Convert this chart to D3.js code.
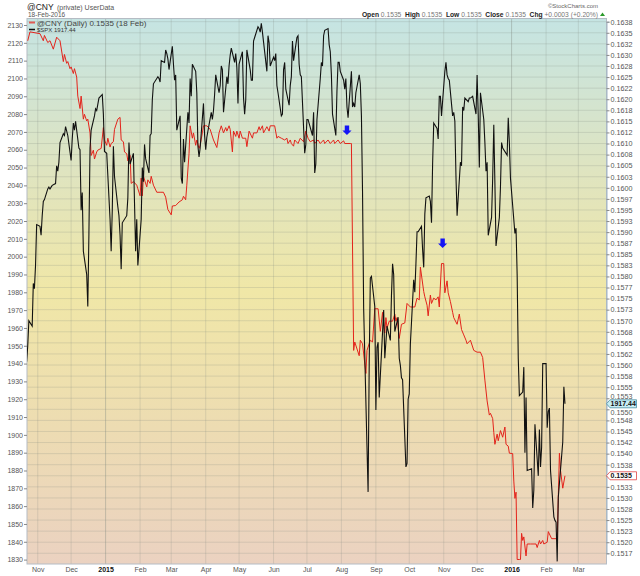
<!DOCTYPE html>
<html>
<head>
<meta charset="utf-8">
<script src="https://cdn.jsdelivr.net/npm/d3@7"></script>
<style>
  body { margin: 0; background: #fff; }
  text { font-family: "Liberation Sans", Arial, sans-serif; }
</style>
</head>
<body>
<script>
// $SPX daily closes (left scale)
var spxDates = [
  "2014-10-22","2014-10-23","2014-10-24","2014-10-27","2014-10-28","2014-10-29","2014-10-30","2014-10-31",
  "2014-11-03","2014-11-04","2014-11-05","2014-11-06","2014-11-07","2014-11-10","2014-11-11","2014-11-12","2014-11-13","2014-11-14",
  "2014-11-17","2014-11-18","2014-11-19","2014-11-20","2014-11-21","2014-11-24","2014-11-25","2014-11-26","2014-11-28",
  "2014-12-01","2014-12-02","2014-12-03","2014-12-04","2014-12-05","2014-12-08","2014-12-09","2014-12-10","2014-12-11","2014-12-12",
  "2014-12-15","2014-12-16","2014-12-17","2014-12-18","2014-12-19","2014-12-22","2014-12-23","2014-12-24","2014-12-26",
  "2014-12-29","2014-12-30","2014-12-31",
  "2015-01-02","2015-01-05","2015-01-06","2015-01-07","2015-01-08","2015-01-09","2015-01-12","2015-01-13","2015-01-14","2015-01-15",
  "2015-01-16","2015-01-20","2015-01-21","2015-01-22","2015-01-23","2015-01-26","2015-01-27","2015-01-28","2015-01-29","2015-01-30",
  "2015-02-02","2015-02-03","2015-02-04","2015-02-05","2015-02-06","2015-02-09","2015-02-10","2015-02-11","2015-02-12","2015-02-13",
  "2015-02-17","2015-02-18","2015-02-19","2015-02-20","2015-02-23","2015-02-24","2015-02-25","2015-02-26","2015-02-27",
  "2015-03-02","2015-03-03","2015-03-04","2015-03-05","2015-03-06","2015-03-09","2015-03-10","2015-03-11","2015-03-12","2015-03-13",
  "2015-03-16","2015-03-17","2015-03-18","2015-03-19","2015-03-20","2015-03-23","2015-03-24","2015-03-25","2015-03-26","2015-03-27",
  "2015-03-30","2015-03-31",
  "2015-04-01","2015-04-02","2015-04-06","2015-04-07","2015-04-08","2015-04-09","2015-04-10","2015-04-13","2015-04-14","2015-04-15",
  "2015-04-16","2015-04-17","2015-04-20","2015-04-21","2015-04-22","2015-04-23","2015-04-24","2015-04-27","2015-04-28","2015-04-29","2015-04-30",
  "2015-05-01","2015-05-04","2015-05-05","2015-05-06","2015-05-07","2015-05-08","2015-05-11","2015-05-12","2015-05-13","2015-05-14",
  "2015-05-15","2015-05-18","2015-05-19","2015-05-20","2015-05-21","2015-05-22","2015-05-26","2015-05-27","2015-05-28","2015-05-29",
  "2015-06-01","2015-06-02","2015-06-03","2015-06-04","2015-06-05","2015-06-08","2015-06-09","2015-06-10","2015-06-11","2015-06-12",
  "2015-06-15","2015-06-16","2015-06-17","2015-06-18","2015-06-19","2015-06-22","2015-06-23","2015-06-24","2015-06-25","2015-06-26",
  "2015-06-29","2015-06-30",
  "2015-07-01","2015-07-02","2015-07-06","2015-07-07","2015-07-08","2015-07-09","2015-07-10","2015-07-13","2015-07-14","2015-07-15",
  "2015-07-16","2015-07-17","2015-07-20","2015-07-21","2015-07-22","2015-07-23","2015-07-24","2015-07-27","2015-07-28","2015-07-29",
  "2015-07-30","2015-07-31",
  "2015-08-03","2015-08-04","2015-08-05","2015-08-06","2015-08-07","2015-08-10","2015-08-11","2015-08-12","2015-08-13","2015-08-14",
  "2015-08-17","2015-08-18","2015-08-19","2015-08-20","2015-08-21","2015-08-24","2015-08-25","2015-08-26","2015-08-27","2015-08-28","2015-08-31",
  "2015-09-01","2015-09-02","2015-09-03","2015-09-04","2015-09-08","2015-09-09","2015-09-10","2015-09-11","2015-09-14","2015-09-15",
  "2015-09-16","2015-09-17","2015-09-18","2015-09-21","2015-09-22","2015-09-23","2015-09-24","2015-09-25","2015-09-28","2015-09-29","2015-09-30",
  "2015-10-01","2015-10-02","2015-10-05","2015-10-06","2015-10-07","2015-10-08","2015-10-09","2015-10-12","2015-10-13","2015-10-14",
  "2015-10-15","2015-10-16","2015-10-19","2015-10-20","2015-10-21","2015-10-22","2015-10-23","2015-10-26","2015-10-27","2015-10-28",
  "2015-10-29","2015-10-30",
  "2015-11-02","2015-11-03","2015-11-04","2015-11-05","2015-11-06","2015-11-09","2015-11-10","2015-11-11","2015-11-12","2015-11-13",
  "2015-11-16","2015-11-17","2015-11-18","2015-11-19","2015-11-20","2015-11-23","2015-11-24","2015-11-25","2015-11-27","2015-11-30",
  "2015-12-01","2015-12-02","2015-12-03","2015-12-04","2015-12-07","2015-12-08","2015-12-09","2015-12-10","2015-12-11","2015-12-14",
  "2015-12-15","2015-12-16","2015-12-17","2015-12-18","2015-12-21","2015-12-22","2015-12-23","2015-12-24","2015-12-28","2015-12-29",
  "2015-12-30","2015-12-31",
  "2016-01-04","2016-01-05","2016-01-06","2016-01-07","2016-01-08","2016-01-11","2016-01-12","2016-01-13","2016-01-14","2016-01-15",
  "2016-01-19","2016-01-20","2016-01-21","2016-01-22","2016-01-25","2016-01-26","2016-01-27","2016-01-28","2016-01-29",
  "2016-02-01","2016-02-02","2016-02-03","2016-02-04","2016-02-05","2016-02-08","2016-02-09","2016-02-10","2016-02-11","2016-02-12",
  "2016-02-16","2016-02-17","2016-02-18"
];
var spxValues = [
  1941,1950,1964,1961,1985,1982,1995,2018,
  2017,2012,2023,2031,2032,2038,2039,2038,2039,2040,
  2041,2051,2048,2053,2064,2069,2068,2073,2068,
  2054,2066,2075,2071,2076,2061,2060,2026,2036,2003,
  1990,1972,2013,2061,2071,2079,2083,2082,2089,
  2091,2080,2059,
  2058,2021,2003,2026,2062,2045,2028,2023,2012,1993,
  2019,2023,2033,2064,2052,2058,2030,2003,2021,1995,
  2021,2050,2042,2063,2055,2047,2068,2069,2088,2097,
  2101,2100,2098,2110,2109,2116,2114,2111,2105,
  2118,2108,2099,2102,2071,2079,2044,2041,2066,2053,
  2081,2075,2100,2090,2108,2104,2092,2062,2056,2061,
  2086,2068,
  2060,2067,2081,2077,2082,2091,2102,2092,2096,2107,
  2105,2081,2101,2097,2107,2113,2117,2109,2114,2106,2086,
  2108,2115,2089,2080,2088,2116,2105,2099,2099,2121,
  2123,2129,2128,2126,2131,2126,2104,2124,2120,2107,
  2112,2110,2114,2096,2092,2079,2080,2105,2109,2094,
  2085,2096,2101,2121,2110,2123,2124,2108,2102,2101,
  2058,2063,
  2077,2077,2068,2081,2047,2052,2077,2100,2109,2107,
  2124,2127,2128,2119,2115,2102,2080,2068,2093,2109,
  2109,2104,
  2099,2094,2100,2084,2078,2104,2084,2086,2084,2092,
  2102,2097,2079,2036,1971,1893,1868,1940,1988,1989,1972,
  1914,1949,1952,1921,1970,1943,1952,1961,1953,1978,
  1996,1990,1958,1966,1943,1939,1932,1931,1882,1884,1920,
  1923,1951,1987,1980,1996,2014,2014,2017,2004,1994,
  2024,2033,2034,2031,2019,2052,2075,2072,2066,2090,
  2090,2079,
  2104,2109,2102,2100,2099,2079,2081,2076,2045,2023,
  2053,2051,2084,2082,2089,2087,2089,2089,2090,2080,
  2102,2080,2050,2092,2077,2064,2048,2053,2012,2022,
  2044,2074,2041,2006,2022,2039,2064,2061,2057,2078,
  2064,2044,
  2013,2016,1990,1943,1922,1924,1938,1890,1921,1880,
  1881,1859,1869,1906,1877,1903,1882,1893,1940,
  1940,1904,1913,1915,1880,1854,1852,1851,1829,1865,
  1896,1927,1917.44
];

// @CNY daily (right scale)
var cnyDates = [
  "2014-10-23","2014-10-25","2014-11-03","2014-11-06","2014-11-07","2014-11-10","2014-11-12","2014-11-15","2014-11-18","2014-11-21",
  "2014-11-24","2014-11-25","2014-11-27","2014-11-28","2014-11-30","2014-12-01","2014-12-03","2014-12-04","2014-12-06","2014-12-07",
  "2014-12-09","2014-12-10","2014-12-12","2014-12-13","2014-12-15","2014-12-16","2014-12-18","2014-12-19","2014-12-21","2014-12-22",
  "2014-12-24","2014-12-25","2014-12-28","2014-12-30","2014-12-31",
  "2015-01-02","2015-01-03","2015-01-05","2015-01-06","2015-01-08","2015-01-09","2015-01-12","2015-01-14","2015-01-15","2015-01-17",
  "2015-01-18","2015-01-20","2015-01-21","2015-01-23","2015-01-24","2015-01-26","2015-01-29","2015-01-30",
  "2015-02-01","2015-02-02","2015-02-03","2015-02-04","2015-02-07","2015-02-08","2015-02-10","2015-02-11","2015-02-13","2015-02-16",
  "2015-02-19","2015-02-22","2015-02-24","2015-02-26",
  "2015-03-01","2015-03-02","2015-03-05","2015-03-08","2015-03-11","2015-03-12","2015-03-14","2015-03-15","2015-03-17","2015-03-18",
  "2015-03-20","2015-03-21","2015-03-23","2015-03-24","2015-03-26","2015-03-27","2015-03-29","2015-03-30",
  "2015-04-02","2015-04-05","2015-04-08","2015-04-11","2015-04-13","2015-04-15","2015-04-17","2015-04-19","2015-04-20","2015-04-22",
  "2015-04-23","2015-04-25","2015-04-26","2015-04-28","2015-04-29",
  "2015-05-01","2015-05-02","2015-05-04","2015-05-07","2015-05-08","2015-05-10","2015-05-13","2015-05-14","2015-05-17","2015-05-19",
  "2015-05-20","2015-05-22","2015-05-23","2015-05-26","2015-05-28","2015-05-29",
  "2015-06-02","2015-06-04","2015-06-05","2015-06-08","2015-06-11","2015-06-13","2015-06-14","2015-06-16","2015-06-17","2015-06-19",
  "2015-06-20","2015-06-23","2015-06-25","2015-06-28","2015-06-30",
  "2015-07-02","2015-07-04","2015-07-07","2015-07-08","2015-07-11","2015-07-13","2015-07-16","2015-07-17","2015-07-20","2015-07-22",
  "2015-07-25","2015-07-26","2015-07-29","2015-07-31",
  "2015-08-03","2015-08-04","2015-08-09","2015-08-10","2015-08-12","2015-08-13","2015-08-17","2015-08-18","2015-08-20","2015-08-23",
  "2015-08-24","2015-08-27","2015-08-29","2015-08-31",
  "2015-09-03","2015-09-05","2015-09-07","2015-09-09","2015-09-10","2015-09-11","2015-09-13","2015-09-16","2015-09-18","2015-09-19",
  "2015-09-20","2015-09-22","2015-09-24","2015-09-27","2015-09-29",
  "2015-10-02","2015-10-06","2015-10-08","2015-10-10","2015-10-11","2015-10-14","2015-10-15","2015-10-17","2015-10-18","2015-10-20",
  "2015-10-21","2015-10-23","2015-10-25","2015-10-27","2015-10-28","2015-10-30",
  "2015-11-01","2015-11-02","2015-11-04","2015-11-05","2015-11-07","2015-11-09","2015-11-10","2015-11-13","2015-11-15","2015-11-17",
  "2015-11-19","2015-11-21","2015-11-22","2015-11-25","2015-11-28",
  "2015-12-01","2015-12-04","2015-12-06","2015-12-08","2015-12-10","2015-12-12","2015-12-13","2015-12-15","2015-12-16","2015-12-17",
  "2015-12-19","2015-12-20","2015-12-22","2015-12-24","2015-12-26","2015-12-27","2015-12-29","2015-12-30",
  "2016-01-02","2016-01-03","2016-01-04","2016-01-05","2016-01-06","2016-01-08","2016-01-09","2016-01-10","2016-01-11","2016-01-12",
  "2016-01-14","2016-01-15","2016-01-18","2016-01-23","2016-01-24","2016-01-26","2016-01-27","2016-01-29","2016-01-30",
  "2016-02-02","2016-02-03","2016-02-06","2016-02-11","2016-02-13","2016-02-14","2016-02-16","2016-02-18"
];
var cnyValues = [
  0.16332,0.16352,0.16348,0.16332,0.16344,0.16328,0.16332,0.16313,0.16340,0.16332,
  0.16285,0.16301,0.16281,0.16285,0.16269,0.16273,0.16258,0.16269,0.16250,0.16207,
  0.16179,0.16207,0.16155,0.16166,0.16151,0.16155,0.16124,0.16073,0.16085,0.16065,
  0.16081,0.16085,0.16089,0.16136,0.16108,
  0.16096,0.16112,0.16092,0.16100,0.16104,0.16132,0.16155,0.16159,0.16108,0.16104,
  0.16081,0.16077,0.16061,0.16073,0.16010,0.16014,0.16006,0.15998,
  0.15982,0.16022,0.15982,0.16026,0.16002,0.16018,0.16010,0.16026,0.16006,0.15990,
  0.15990,0.15990,0.15979,0.15951,
  0.15939,0.15959,0.15960,0.15968,0.15973,0.15981,0.15973,0.16006,0.16077,0.16140,
  0.16112,0.16124,0.16096,0.16108,0.16089,0.16096,0.16124,0.16140,
  0.16140,0.16132,0.16108,0.16091,0.16124,0.16140,0.16124,0.16136,0.16128,0.16140,
  0.16132,0.16081,0.16128,0.16116,0.16128,
  0.16112,0.16128,0.16112,0.16112,0.16093,0.16128,0.16112,0.16124,0.16124,0.16138,
  0.16130,0.16140,0.16124,0.16138,0.16128,0.16140,
  0.16140,0.16112,0.16116,0.16112,0.16108,0.16112,0.16100,0.16108,0.16100,0.16094,
  0.16108,0.16100,0.16112,0.16104,0.16128,
  0.16112,0.16104,0.16108,0.16100,0.16108,0.16100,0.16108,0.16100,0.16108,0.16100,
  0.16108,0.16100,0.16108,0.16100,
  0.16106,0.16100,0.16100,0.16100,0.15633,0.15652,0.15621,0.15656,0.15648,0.15581,
  0.15633,0.15656,0.15652,0.15727,
  0.15727,0.15676,0.15719,0.15672,0.15707,0.15684,0.15699,0.15699,0.15715,0.15699,
  0.15707,0.15660,0.15692,0.15695,0.15739,
  0.15731,0.15731,0.15751,0.15747,0.15821,0.15766,0.15754,0.15735,0.15711,0.15758,
  0.15739,0.15751,0.15747,0.15754,0.15731,0.15829,
  0.15829,0.15763,0.15790,0.15763,0.15743,0.15719,0.15707,0.15692,0.15715,0.15680,
  0.15668,0.15656,0.15648,0.15656,0.15633,
  0.15629,0.15629,0.15617,0.15566,0.15519,0.15487,0.15491,0.15479,0.15448,0.15421,
  0.15444,0.15429,0.15452,0.15437,0.15460,0.15421,0.15417,0.15401,
  0.15400,0.15338,0.15299,0.15313,0.15161,0.15161,0.15161,0.15220,0.15204,0.15212,
  0.15169,0.15196,0.15196,0.15196,0.15188,0.15204,0.15196,0.15204,0.15196,
  0.15200,0.15224,0.15208,0.15208,0.15401,0.15362,0.15322,0.15350
];

// Axis ticks
var monthDates = ["2014-11-01","2014-12-01","2015-01-01","2015-02-01","2015-03-01","2015-04-01","2015-05-01","2015-06-01",
  "2015-07-01","2015-08-01","2015-09-01","2015-10-01","2015-11-01","2015-12-01","2016-01-01","2016-02-01","2016-03-01"];
var monthLabels = ["Nov","Dec","2015","Feb","Mar","Apr","May","Jun","Jul","Aug","Sep","Oct","Nov","Dec","2016","Feb","Mar"];
var spxTicks = [1830,1840,1850,1860,1870,1880,1890,1900,1910,1920,1930,1940,1950,1960,1970,1980,1990,
  2000,2010,2020,2030,2040,2050,2060,2070,2080,2090,2100,2110,2120,2130];
var cnyTicks = [0.15175,0.152,0.15225,0.1525,0.15275,0.153,0.15325,0.1535,0.15375,0.154,0.15425,0.1545,0.15475,
  0.155,0.15525,0.1555,0.15575,0.156,0.15625,0.1565,0.15675,0.157,0.15725,0.1575,0.15775,0.158,0.15825,0.1585,
  0.15875,0.159,0.15925,0.1595,0.15975,0.16,0.16025,0.1605,0.16075,0.161,0.16125,0.1615,0.16175,0.162,0.16225,
  0.1625,0.16275,0.163,0.16325,0.1635,0.16375];
var cnyTickLabels = ["0.1517","0.1520","0.1523","0.1525","0.1528","0.1530","0.1533","0.1535","0.1538","0.1540","0.1542","0.1545","0.1548",
  "0.1550","0.1553","0.1555","0.1558","0.1560","0.1562","0.1565","0.1568","0.1570","0.1573","0.1575","0.1577","0.1580","0.1583","0.1585",
  "0.1587","0.1590","0.1593","0.1595","0.1597","0.1600","0.1603","0.1605","0.1608","0.1610","0.1612","0.1615","0.1618","0.1620","0.1622",
  "0.1625","0.1628","0.1630","0.1632","0.1635","0.1638"];

// Blue arrow annotations (date, @CNY level of arrow tip)
var arrowDates = ["2015-08-06","2015-10-31"];
var arrowValues = [0.16119, 0.15864];

window.onload = function(){

    var w = 640, h = 576;
    var left = 27, right = 606.5, top = 18.5, bottom = 564;
    var parse = d3.utcParse("%Y-%m-%d");

    var svg = d3.select("body")
        .append("svg")
        .attr("width", w)
        .attr("height", h);

    // Scales
    var x = d3.scaleUtc()
        .domain([Date.UTC(2014, 9, 22, 8), Date.UTC(2016, 2, 26, 8)])
        .range([left, right]);

    var ySpx = d3.scaleLinear()
        .domain([1830, 2130])
        .range([559.6, 25]);

    var yCny = d3.scaleLinear()
        .domain([0.15175, 0.16375])
        .range([553.3, 21.7]);

    var lastSpx = spxValues[spxValues.length - 1];
    var lastCny = cnyValues[cnyValues.length - 1];

    // Background gradient
    var defs = svg.append("defs");
    var grad = defs.append("linearGradient")
        .attr("id", "bg")
        .attr("x1", 0).attr("y1", 0).attr("x2", 0).attr("y2", 1);
    grad.append("stop").attr("offset", "0%").attr("stop-color", "#c5e4e3");
    grad.append("stop").attr("offset", "28%").attr("stop-color", "#dfe4c0");
    grad.append("stop").attr("offset", "50%").attr("stop-color", "#f0e7a7");
    grad.append("stop").attr("offset", "75%").attr("stop-color", "#eddcb2");
    grad.append("stop").attr("offset", "100%").attr("stop-color", "#ebd2c1");

    defs.append("clipPath")
        .attr("id", "clip")
        .append("rect")
        .attr("x", left).attr("y", top)
        .attr("width", right - left).attr("height", bottom - top);

    svg.append("rect")
        .attr("x", left).attr("y", top)
        .attr("width", right - left).attr("height", bottom - top)
        .style("fill", "url(#bg)");

    // Horizontal grid on the @CNY ticks
    svg.append("g").selectAll("line")
        .data(cnyTicks)
        .enter()
        .append("line")
        .attr("x1", left).attr("x2", right)
        .attr("y1", function(d){ return yCny(d); })
        .attr("y2", function(d){ return yCny(d); })
        .style("stroke", "#7f8a80")
        .style("stroke-opacity", 0.22)
        .style("stroke-width", 1);

    // Vertical grid at month starts
    svg.append("g").selectAll("line")
        .data(monthDates)
        .enter()
        .append("line")
        .attr("x1", function(d){ return x(parse(d)); })
        .attr("x2", function(d){ return x(parse(d)); })
        .attr("y1", top).attr("y2", bottom)
        .style("stroke", "#7f8a80")
        .style("stroke-opacity", function(d, i){ return monthLabels[i].length == 4 ? 0.4 : 0.22; })
        .style("stroke-width", 1);

    // Plot frame
    svg.append("rect")
        .attr("x", left).attr("y", top)
        .attr("width", right - left).attr("height", bottom - top)
        .style("fill", "none")
        .style("stroke", "#b5bcc4")
        .style("stroke-width", 1);

    var plot = svg.append("g").attr("clip-path", "url(#clip)");

    // @CNY line
    var cnyLine = d3.line()
        .x(function(d, i){ return x(parse(cnyDates[i])); })
        .y(function(d){ return yCny(d); });

    plot.append("path")
        .datum(cnyValues)
        .attr("d", cnyLine)
        .style("fill", "none")
        .style("stroke", "#e3231b")
        .style("stroke-width", 1);

    // $SPX line
    var spxLine = d3.line()
        .x(function(d, i){ return x(parse(spxDates[i])); })
        .y(function(d){ return ySpx(d); });

    plot.append("path")
        .datum(spxValues)
        .attr("d", spxLine)
        .style("fill", "none")
        .style("stroke", "#111")
        .style("stroke-width", 1.1);

    // Blue arrows
    plot.selectAll(".arrow")
        .data(arrowDates)
        .enter()
        .append("path")
        .attr("class", "arrow")
        .attr("d", function(d, i){
            var cx = x(parse(d)), ty = yCny(arrowValues[i]);
            return "M" + (cx - 2.2) + "," + (ty - 9.5) + "L" + (cx + 2.2) + "," + (ty - 9.5) +
                "L" + (cx + 2.2) + "," + (ty - 4.5) + "L" + (cx + 4.6) + "," + (ty - 4.5) +
                "L" + cx + "," + ty + "L" + (cx - 4.6) + "," + (ty - 4.5) +
                "L" + (cx - 2.2) + "," + (ty - 4.5) + "Z";
        })
        .style("fill", "#1414f5");

    // Left axis ($SPX)
    var leftAxis = svg.append("g")
        .attr("transform", "translate(" + left + ",0)")
        .call(d3.axisLeft(ySpx).tickValues(spxTicks).tickSize(3).tickPadding(1).tickFormat(d3.format("d")));
    leftAxis.select(".domain").remove();
    leftAxis.selectAll("line").style("stroke", "#888");
    leftAxis.selectAll("text").style("font-size", "7px").style("fill", "#555")
        .style("font-family", "Liberation Sans, Arial, sans-serif");

    // Right axis (@CNY); the label under the @CNY tag is left to the tag itself
    var rightAxis = svg.append("g")
        .attr("transform", "translate(" + right + ",0)")
        .call(d3.axisRight(yCny).tickValues(cnyTicks).tickSize(3).tickPadding(1)
            .tickFormat(function(d, i){ return d == lastCny ? "" : cnyTickLabels[i]; }));
    rightAxis.select(".domain").style("stroke", "#9fb4c4");
    rightAxis.selectAll("line").style("stroke", "#888");
    rightAxis.selectAll("text").style("font-size", "7.2px").style("fill", "#555")
        .style("font-family", "Liberation Sans, Arial, sans-serif")
        .attr("dy", function(d){
            // nudge the two labels that sit next to the $SPX tag
            var gap = yCny(d) - ySpx(lastSpx);
            if (Math.abs(gap) < 8) return (gap < 0 ? -2.6 : 2.2) + 2.5 + "px";
            return "0.32em";
        });

    // Bottom axis (months)
    var bottomAxis = svg.append("g")
        .attr("transform", "translate(0," + bottom + ")")
        .call(d3.axisBottom(x).tickValues(monthDates.map(parse)).tickSize(0).tickPadding(3)
            .tickFormat(function(d, i){ return monthLabels[i]; }));
    bottomAxis.select(".domain").remove();
    bottomAxis.selectAll("text")
        .style("font-family", "Liberation Sans, Arial, sans-serif")
        .style("font-size", "7px")
        .style("font-weight", function(d, i){ return monthLabels[i].length == 4 ? "bold" : "normal"; })
        .style("fill", function(d, i){ return monthLabels[i].length == 4 ? "#111" : "#555"; });

    // Last value tags on the right axis
    function tag(yPos, label, fill, stroke){
        var g = svg.append("g").attr("transform", "translate(" + right + "," + yPos + ")");
        g.append("path")
            .attr("d", "M0,0L3.5,-4L30,-4L30,4L3.5,4Z")
            .style("fill", fill)
            .style("stroke", stroke)
            .style("stroke-width", 0.8);
        g.append("text")
            .attr("x", 4)
            .attr("y", 2.5)
            .style("font-size", "7px")
            .style("font-weight", "bold")
            .style("fill", "#111")
            .text(label);
    }
    tag(ySpx(lastSpx), "1917.44", "#c8eef6", "#4a8fa0");
    tag(yCny(lastCny), "0.1535", "#ffffff", "#e04545");

    // Legend
    svg.append("line")
        .attr("x1", 29).attr("x2", 35).attr("y1", 22.5).attr("y2", 22.5)
        .style("stroke", "#e05a55").style("stroke-width", 2);
    svg.append("text")
        .attr("x", 37).attr("y", 25.5)
        .style("font-size", "8px").style("fill", "#444")
        .text("@CNY (Daily) 0.1535 (18 Feb)");
    svg.append("line")
        .attr("x1", 29).attr("x2", 35).attr("y1", 29.5).attr("y2", 29.5)
        .style("stroke", "#111").style("stroke-width", 1.5);
    svg.append("text")
        .attr("x", 37).attr("y", 31.5)
        .style("font-size", "6px").style("fill", "#333")
        .text("$SPX 1917.44");

    // Title block
    svg.append("text")
        .attr("x", 27).attr("y", 10)
        .style("font-size", "8.5px").style("fill", "#222")
        .text("@CNY");
    svg.append("text")
        .attr("x", 57).attr("y", 9.5)
        .style("font-size", "7px").style("fill", "#555")
        .text("(private) UserData");
    svg.append("text")
        .attr("x", 28).attr("y", 17)
        .style("font-size", "6.5px").style("fill", "#555")
        .text("18-Feb-2016");

    svg.append("text")
        .attr("x", 598).attr("y", 8)
        .attr("text-anchor", "end")
        .style("font-size", "6px").style("fill", "#666")
        .text("\u00a9StockCharts.com");

    var quote = svg.append("text")
        .attr("x", 598).attr("y", 16.5)
        .attr("text-anchor", "end")
        .style("font-size", "6.7px");
    var parts = [["Open", " 0.1535  "], ["High", " 0.1535  "], ["Low", " 0.1535  "], ["Close", " 0.1535  "], ["Chg", " +0.0003 (+0.20%)"]];
    parts.forEach(function(p){
        quote.append("tspan").style("font-weight", "bold").style("fill", "#222").text(p[0]);
        quote.append("tspan").style("fill", "#777").attr("xml:space", "preserve").text(p[1]);
    });
    svg.append("path")
        .attr("d", "M600,16L602.5,12.5L605,16Z")
        .style("fill", "#2a9a2a");
};
</script>
</body>
</html>
